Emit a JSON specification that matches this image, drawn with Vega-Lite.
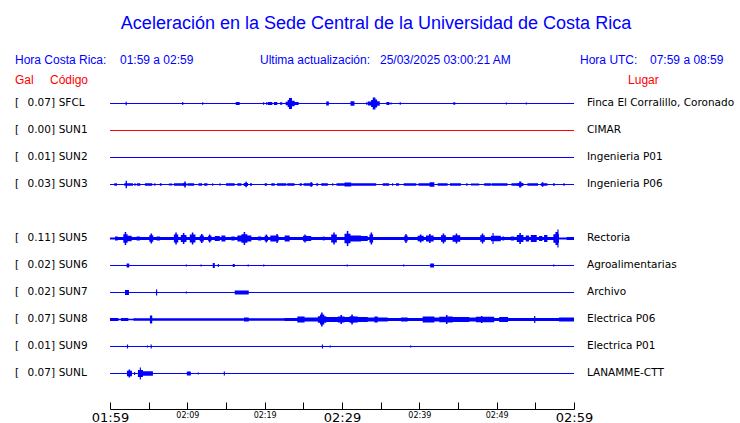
{
 "$schema": "https://vega.github.io/schema/vega-lite/v6.json",
 "width": 464, "height": 321,
 "autosize": {"type": "none"},
 "padding": {"left": 110, "top": 88, "right": 166, "bottom": 14},
 "background": "white",
 "title": {"text": "Aceleración en la Sede Central de la Universidad de Costa Rica", "font": "Liberation Sans", "fontSize": 18, "fontWeight": "normal", "color": "#0000ff", "anchor": "middle", "frame": "group", "offset": 21, "dx": 34},
 "config": {"view": {"stroke": null}, "axis": {"grid": false}},
 "resolve": {"axis": {"x": "independent", "y": "independent"}},
 "datasets": {
  "stations": [
   {"s":"SFCL","gal":0.07,"place":"Finca El Corralillo, Coronado","track":0},
   {"s":"SUN1","gal":0.00,"place":"CIMAR","track":1},
   {"s":"SUN2","gal":0.01,"place":"Ingenieria P01","track":2},
   {"s":"SUN3","gal":0.03,"place":"Ingenieria P06","track":3},
   {"s":"SUN5","gal":0.11,"place":"Rectoria","track":5},
   {"s":"SUN6","gal":0.02,"place":"Agroalimentarias","track":6},
   {"s":"SUN7","gal":0.02,"place":"Archivo","track":7},
   {"s":"SUN8","gal":0.07,"place":"Electrica P06","track":8},
   {"s":"SUN9","gal":0.01,"place":"Electrica P01","track":9},
   {"s":"SUNL","gal":0.07,"place":"LANAMME-CTT","track":10}
  ],
  "traces": [
   {"s":"SFCL","t":0,"a":0},{"s":"SFCL","t":2.02,"a":0.067},{"s":"SFCL","t":2.17,"a":0},{"s":"SFCL","t":9.33,"a":0.056},{"s":"SFCL","t":9.48,"a":0},{"s":"SFCL","t":11.91,"a":0.048},{"s":"SFCL","t":12.06,"a":0},{"s":"SFCL","t":16.26,"a":0.056},{"s":"SFCL","t":16.77,"a":0},{"s":"SFCL","t":19.78,"a":0.048},{"s":"SFCL","t":19.93,"a":0},{"s":"SFCL","t":20.17,"a":0.048},{"s":"SFCL","t":20.32,"a":0},{"s":"SFCL","t":20.39,"a":0.056},{"s":"SFCL","t":20.99,"a":0},{"s":"SFCL","t":21.2,"a":0.056},{"s":"SFCL","t":21.63,"a":0},{"s":"SFCL","t":21.98,"a":0.048},{"s":"SFCL","t":22.28,"a":0},{"s":"SFCL","t":22.71,"a":0.067},{"s":"SFCL","t":22.97,"a":0.13},{"s":"SFCL","t":23.14,"a":0.204},{"s":"SFCL","t":23.53,"a":0.1},{"s":"SFCL","t":23.87,"a":0.056},{"s":"SFCL","t":24.39,"a":0},{"s":"SFCL","t":27.96,"a":0.074},{"s":"SFCL","t":28.3,"a":0},{"s":"SFCL","t":31.1,"a":0.085},{"s":"SFCL","t":31.61,"a":0},{"s":"SFCL","t":33.12,"a":0.048},{"s":"SFCL","t":33.27,"a":0},{"s":"SFCL","t":33.33,"a":0.074},{"s":"SFCL","t":33.76,"a":0.13},{"s":"SFCL","t":33.98,"a":0.222},{"s":"SFCL","t":34.32,"a":0.148},{"s":"SFCL","t":34.54,"a":0.085},{"s":"SFCL","t":34.88,"a":0},{"s":"SFCL","t":35.74,"a":0.056},{"s":"SFCL","t":36.13,"a":0},{"s":"SFCL","t":36.26,"a":0.037},{"s":"SFCL","t":36.41,"a":0},{"s":"SFCL","t":37.46,"a":0.048},{"s":"SFCL","t":37.61,"a":0},{"s":"SFCL","t":44.39,"a":0.048},{"s":"SFCL","t":44.65,"a":0},{"s":"SFCL","t":51.18,"a":0.037},{"s":"SFCL","t":51.33,"a":0},{"s":"SFCL","t":53.76,"a":0.037},{"s":"SFCL","t":53.91,"a":0},{"s":"SFCL","t":60,"a":0},

   {"s":"SUN3","t":0,"a":0},{"s":"SUN3","t":0.56,"a":0.048},{"s":"SUN3","t":0.9,"a":0},{"s":"SUN3","t":1.85,"a":0.048},{"s":"SUN3","t":2.02,"a":0.137},{"s":"SUN3","t":2.19,"a":0.048},{"s":"SUN3","t":2.97,"a":0},{"s":"SUN3","t":3.14,"a":0.048},{"s":"SUN3","t":3.31,"a":0},{"s":"SUN3","t":3.48,"a":0.048},{"s":"SUN3","t":3.91,"a":0},{"s":"SUN3","t":4.52,"a":0.048},{"s":"SUN3","t":5.46,"a":0},{"s":"SUN3","t":5.72,"a":0.048},{"s":"SUN3","t":5.87,"a":0},{"s":"SUN3","t":6.45,"a":0.048},{"s":"SUN3","t":6.67,"a":0},{"s":"SUN3","t":7.61,"a":0.04},{"s":"SUN3","t":8.04,"a":0},{"s":"SUN3","t":8.26,"a":0.048},{"s":"SUN3","t":9.46,"a":0.056},{"s":"SUN3","t":9.6,"a":0.111},{"s":"SUN3","t":9.8,"a":0.056},{"s":"SUN3","t":9.89,"a":0},{"s":"SUN3","t":10.02,"a":0.048},{"s":"SUN3","t":10.88,"a":0},{"s":"SUN3","t":11.44,"a":0.048},{"s":"SUN3","t":11.91,"a":0},{"s":"SUN3","t":12.17,"a":0.048},{"s":"SUN3","t":12.6,"a":0},{"s":"SUN3","t":13.2,"a":0.048},{"s":"SUN3","t":13.35,"a":0},{"s":"SUN3","t":14.11,"a":0.04},{"s":"SUN3","t":14.32,"a":0},{"s":"SUN3","t":15.01,"a":0.048},{"s":"SUN3","t":16.13,"a":0},{"s":"SUN3","t":16.47,"a":0.048},{"s":"SUN3","t":16.99,"a":0},{"s":"SUN3","t":17.29,"a":0.056},{"s":"SUN3","t":17.5,"a":0.1},{"s":"SUN3","t":17.7,"a":0.056},{"s":"SUN3","t":17.85,"a":0},{"s":"SUN3","t":18.11,"a":0.048},{"s":"SUN3","t":18.37,"a":0},{"s":"SUN3","t":20.0,"a":0.048},{"s":"SUN3","t":20.3,"a":0},{"s":"SUN3","t":20.86,"a":0.048},{"s":"SUN3","t":21.29,"a":0},{"s":"SUN3","t":21.59,"a":0.048},{"s":"SUN3","t":22.8,"a":0},{"s":"SUN3","t":22.92,"a":0.048},{"s":"SUN3","t":23.87,"a":0},{"s":"SUN3","t":24.52,"a":0.048},{"s":"SUN3","t":24.82,"a":0},{"s":"SUN3","t":25.03,"a":0.048},{"s":"SUN3","t":25.89,"a":0.085},{"s":"SUN3","t":26.15,"a":0.048},{"s":"SUN3","t":26.24,"a":0},{"s":"SUN3","t":26.67,"a":0.048},{"s":"SUN3","t":26.92,"a":0},{"s":"SUN3","t":27.31,"a":0.048},{"s":"SUN3","t":28.17,"a":0},{"s":"SUN3","t":28.73,"a":0.048},{"s":"SUN3","t":28.88,"a":0},{"s":"SUN3","t":29.29,"a":0.048},{"s":"SUN3","t":30.32,"a":0.074},{"s":"SUN3","t":31.18,"a":0.048},{"s":"SUN3","t":34.41,"a":0},{"s":"SUN3","t":35.27,"a":0.048},{"s":"SUN3","t":36.09,"a":0},{"s":"SUN3","t":36.47,"a":0.048},{"s":"SUN3","t":36.62,"a":0},{"s":"SUN3","t":36.99,"a":0.048},{"s":"SUN3","t":37.38,"a":0},{"s":"SUN3","t":37.98,"a":0.048},{"s":"SUN3","t":39.61,"a":0},{"s":"SUN3","t":39.87,"a":0.048},{"s":"SUN3","t":41.33,"a":0.085},{"s":"SUN3","t":41.94,"a":0},{"s":"SUN3","t":42.37,"a":0.048},{"s":"SUN3","t":43.66,"a":0},{"s":"SUN3","t":43.96,"a":0.048},{"s":"SUN3","t":45.38,"a":0},{"s":"SUN3","t":46.06,"a":0.048},{"s":"SUN3","t":46.24,"a":0},{"s":"SUN3","t":46.67,"a":0.04},{"s":"SUN3","t":47.74,"a":0},{"s":"SUN3","t":48.39,"a":0.048},{"s":"SUN3","t":49.25,"a":0},{"s":"SUN3","t":49.33,"a":0.048},{"s":"SUN3","t":51.4,"a":0},{"s":"SUN3","t":51.91,"a":0.048},{"s":"SUN3","t":52.69,"a":0.056},{"s":"SUN3","t":52.9,"a":0.111},{"s":"SUN3","t":53.2,"a":0.056},{"s":"SUN3","t":53.46,"a":0},{"s":"SUN3","t":53.98,"a":0.048},{"s":"SUN3","t":55.35,"a":0},{"s":"SUN3","t":55.7,"a":0.048},{"s":"SUN3","t":55.83,"a":0.085},{"s":"SUN3","t":56.04,"a":0.048},{"s":"SUN3","t":56.56,"a":0},{"s":"SUN3","t":57.29,"a":0.048},{"s":"SUN3","t":57.51,"a":0},{"s":"SUN3","t":58.62,"a":0.048},{"s":"SUN3","t":58.8,"a":0},{"s":"SUN3","t":60,"a":0},

   {"s":"SUN5","t":0,"a":0.037},{"s":"SUN5","t":0.65,"a":0.074},{"s":"SUN5","t":0.99,"a":0.056},{"s":"SUN5","t":1.72,"a":0.157},{"s":"SUN5","t":1.9,"a":0.241},{"s":"SUN5","t":2.1,"a":0.157},{"s":"SUN5","t":2.28,"a":0.1},{"s":"SUN5","t":2.8,"a":0.056},{"s":"SUN5","t":3.44,"a":0.074},{"s":"SUN5","t":3.87,"a":0.056},{"s":"SUN5","t":5.08,"a":0.12},{"s":"SUN5","t":5.24,"a":0.185},{"s":"SUN5","t":5.44,"a":0.12},{"s":"SUN5","t":5.59,"a":0.056},{"s":"SUN5","t":6.02,"a":0.074},{"s":"SUN5","t":6.45,"a":0.056},{"s":"SUN5","t":8.26,"a":0.144},{"s":"SUN5","t":8.44,"a":0.222},{"s":"SUN5","t":8.64,"a":0.144},{"s":"SUN5","t":8.82,"a":0.056},{"s":"SUN5","t":9.16,"a":0.133},{"s":"SUN5","t":9.42,"a":0.204},{"s":"SUN5","t":9.62,"a":0.133},{"s":"SUN5","t":9.89,"a":0.056},{"s":"SUN5","t":10.32,"a":0.144},{"s":"SUN5","t":10.58,"a":0.222},{"s":"SUN5","t":10.78,"a":0.144},{"s":"SUN5","t":11.05,"a":0.056},{"s":"SUN5","t":11.61,"a":0.11},{"s":"SUN5","t":11.77,"a":0.167},{"s":"SUN5","t":11.97,"a":0.11},{"s":"SUN5","t":12.13,"a":0.056},{"s":"SUN5","t":12.69,"a":0.1},{"s":"SUN5","t":12.8,"a":0.148},{"s":"SUN5","t":12.98,"a":0.1},{"s":"SUN5","t":13.12,"a":0.056},{"s":"SUN5","t":13.55,"a":0.093},{"s":"SUN5","t":14.19,"a":0.056},{"s":"SUN5","t":14.41,"a":0.111},{"s":"SUN5","t":14.92,"a":0.056},{"s":"SUN5","t":15.7,"a":0.074},{"s":"SUN5","t":16.13,"a":0.056},{"s":"SUN5","t":16.47,"a":0.111},{"s":"SUN5","t":16.99,"a":0.157},{"s":"SUN5","t":17.28,"a":0.241},{"s":"SUN5","t":17.48,"a":0.157},{"s":"SUN5","t":17.76,"a":0.11},{"s":"SUN5","t":18.28,"a":0.056},{"s":"SUN5","t":19.14,"a":0.074},{"s":"SUN5","t":19.57,"a":0.056},{"s":"SUN5","t":20.0,"a":0.1},{"s":"SUN5","t":20.12,"a":0.148},{"s":"SUN5","t":20.3,"a":0.1},{"s":"SUN5","t":20.43,"a":0.056},{"s":"SUN5","t":20.73,"a":0.111},{"s":"SUN5","t":21.51,"a":0.167},{"s":"SUN5","t":21.7,"a":0.11},{"s":"SUN5","t":21.81,"a":0.056},{"s":"SUN5","t":22.58,"a":0.111},{"s":"SUN5","t":23.23,"a":0.056},{"s":"SUN5","t":24.95,"a":0.1},{"s":"SUN5","t":25.12,"a":0.148},{"s":"SUN5","t":25.3,"a":0.1},{"s":"SUN5","t":25.51,"a":0.093},{"s":"SUN5","t":26.02,"a":0.056},{"s":"SUN5","t":27.53,"a":0.074},{"s":"SUN5","t":27.74,"a":0.056},{"s":"SUN5","t":28.6,"a":0.144},{"s":"SUN5","t":28.87,"a":0.222},{"s":"SUN5","t":29.07,"a":0.144},{"s":"SUN5","t":29.33,"a":0.056},{"s":"SUN5","t":30.32,"a":0.18},{"s":"SUN5","t":30.62,"a":0.278},{"s":"SUN5","t":30.82,"a":0.18},{"s":"SUN5","t":31.1,"a":0.111},{"s":"SUN5","t":32.47,"a":0.093},{"s":"SUN5","t":33.33,"a":0.056},{"s":"SUN5","t":33.55,"a":0.144},{"s":"SUN5","t":33.7,"a":0.222},{"s":"SUN5","t":33.9,"a":0.144},{"s":"SUN5","t":34.02,"a":0.056},{"s":"SUN5","t":38.06,"a":0.11},{"s":"SUN5","t":38.18,"a":0.167},{"s":"SUN5","t":38.36,"a":0.11},{"s":"SUN5","t":38.49,"a":0.056},{"s":"SUN5","t":39.78,"a":0.1},{"s":"SUN5","t":40.07,"a":0.148},{"s":"SUN5","t":40.27,"a":0.1},{"s":"SUN5","t":40.56,"a":0.056},{"s":"SUN5","t":40.86,"a":0.11},{"s":"SUN5","t":41.26,"a":0.167},{"s":"SUN5","t":41.46,"a":0.11},{"s":"SUN5","t":41.85,"a":0.056},{"s":"SUN5","t":42.8,"a":0.12},{"s":"SUN5","t":43.02,"a":0.185},{"s":"SUN5","t":43.22,"a":0.12},{"s":"SUN5","t":43.44,"a":0.056},{"s":"SUN5","t":44.3,"a":0.12},{"s":"SUN5","t":44.7,"a":0.185},{"s":"SUN5","t":44.9,"a":0.12},{"s":"SUN5","t":45.29,"a":0.056},{"s":"SUN5","t":47.87,"a":0.12},{"s":"SUN5","t":48.07,"a":0.185},{"s":"SUN5","t":48.27,"a":0.12},{"s":"SUN5","t":48.47,"a":0.056},{"s":"SUN5","t":49.25,"a":0.1},{"s":"SUN5","t":49.46,"a":0.2},{"s":"SUN5","t":49.6,"a":0.1},{"s":"SUN5","t":50.54,"a":0.056},{"s":"SUN5","t":50.75,"a":0.074},{"s":"SUN5","t":50.97,"a":0.056},{"s":"SUN5","t":51.83,"a":0.074},{"s":"SUN5","t":52.26,"a":0.056},{"s":"SUN5","t":52.6,"a":0.133},{"s":"SUN5","t":52.93,"a":0.204},{"s":"SUN5","t":53.13,"a":0.133},{"s":"SUN5","t":53.46,"a":0.056},{"s":"SUN5","t":53.76,"a":0.111},{"s":"SUN5","t":54.19,"a":0.056},{"s":"SUN5","t":54.41,"a":0.13},{"s":"SUN5","t":55.18,"a":0.056},{"s":"SUN5","t":55.48,"a":0.093},{"s":"SUN5","t":55.91,"a":0.056},{"s":"SUN5","t":56.13,"a":0.13},{"s":"SUN5","t":56.56,"a":0.056},{"s":"SUN5","t":57.33,"a":0.157},{"s":"SUN5","t":57.6,"a":0.241},{"s":"SUN5","t":57.85,"a":0.333},{"s":"SUN5","t":58.0,"a":0.157},{"s":"SUN5","t":58.06,"a":0.037},{"s":"SUN5","t":59.05,"a":0.056},{"s":"SUN5","t":60,"a":0.056},

   {"s":"SUN6","t":0,"a":0},{"s":"SUN6","t":2.15,"a":0.074},{"s":"SUN6","t":2.49,"a":0},{"s":"SUN6","t":9.8,"a":0.037},{"s":"SUN6","t":9.95,"a":0},{"s":"SUN6","t":11.7,"a":0.037},{"s":"SUN6","t":11.85,"a":0},{"s":"SUN6","t":13.29,"a":0.093},{"s":"SUN6","t":13.55,"a":0},{"s":"SUN6","t":13.94,"a":0.056},{"s":"SUN6","t":14.09,"a":0},{"s":"SUN6","t":15.87,"a":0.056},{"s":"SUN6","t":16.13,"a":0},{"s":"SUN6","t":17.8,"a":0.037},{"s":"SUN6","t":17.95,"a":0},{"s":"SUN6","t":19.8,"a":0.037},{"s":"SUN6","t":19.95,"a":0},{"s":"SUN6","t":30.6,"a":0.037},{"s":"SUN6","t":30.75,"a":0},{"s":"SUN6","t":37.9,"a":0.037},{"s":"SUN6","t":38.05,"a":0},{"s":"SUN6","t":41.4,"a":0.074},{"s":"SUN6","t":41.9,"a":0},{"s":"SUN6","t":57.3,"a":0.037},{"s":"SUN6","t":57.45,"a":0},{"s":"SUN6","t":60,"a":0},

   {"s":"SUN7","t":0,"a":0},{"s":"SUN7","t":1.94,"a":0.093},{"s":"SUN7","t":2.45,"a":0},{"s":"SUN7","t":5.94,"a":0.111},{"s":"SUN7","t":6.1,"a":0},{"s":"SUN7","t":9.8,"a":0.037},{"s":"SUN7","t":9.95,"a":0},{"s":"SUN7","t":16.13,"a":0.074},{"s":"SUN7","t":17.94,"a":0},{"s":"SUN7","t":60,"a":0},

   {"s":"SUN8","t":0,"a":0.056},{"s":"SUN8","t":1.08,"a":0.03},{"s":"SUN8","t":1.42,"a":0.056},{"s":"SUN8","t":2.37,"a":0.03},{"s":"SUN8","t":3.01,"a":0.048},{"s":"SUN8","t":5.16,"a":0.148},{"s":"SUN8","t":5.46,"a":0.048},{"s":"SUN8","t":17.33,"a":0.074},{"s":"SUN8","t":17.94,"a":0.048},{"s":"SUN8","t":22.58,"a":0.056},{"s":"SUN8","t":24.22,"a":0.111},{"s":"SUN8","t":25.16,"a":0.074},{"s":"SUN8","t":26.88,"a":0.12},{"s":"SUN8","t":27.15,"a":0.185},{"s":"SUN8","t":27.3,"a":0.259},{"s":"SUN8","t":27.5,"a":0.185},{"s":"SUN8","t":27.7,"a":0.12},{"s":"SUN8","t":27.96,"a":0.093},{"s":"SUN8","t":29.46,"a":0.11},{"s":"SUN8","t":29.8,"a":0.167},{"s":"SUN8","t":30.0,"a":0.11},{"s":"SUN8","t":30.32,"a":0.093},{"s":"SUN8","t":30.97,"a":0.12},{"s":"SUN8","t":31.2,"a":0.185},{"s":"SUN8","t":31.4,"a":0.12},{"s":"SUN8","t":31.61,"a":0.111},{"s":"SUN8","t":32.04,"a":0.093},{"s":"SUN8","t":33.33,"a":0.074},{"s":"SUN8","t":34.19,"a":0.111},{"s":"SUN8","t":34.62,"a":0.074},{"s":"SUN8","t":35.91,"a":0.056},{"s":"SUN8","t":37.63,"a":0.074},{"s":"SUN8","t":38.49,"a":0.056},{"s":"SUN8","t":40.43,"a":0.111},{"s":"SUN8","t":41.94,"a":0.074},{"s":"SUN8","t":42.58,"a":0.1},{"s":"SUN8","t":43.44,"a":0.167},{"s":"SUN8","t":43.64,"a":0.11},{"s":"SUN8","t":44.3,"a":0.093},{"s":"SUN8","t":46.45,"a":0.074},{"s":"SUN8","t":47.31,"a":0.1},{"s":"SUN8","t":47.96,"a":0.13},{"s":"SUN8","t":48.16,"a":0.1},{"s":"SUN8","t":49.68,"a":0.056},{"s":"SUN8","t":50.32,"a":0.093},{"s":"SUN8","t":51.48,"a":0.056},{"s":"SUN8","t":54.84,"a":0.13},{"s":"SUN8","t":55.0,"a":0.056},{"s":"SUN8","t":58.06,"a":0.074},{"s":"SUN8","t":60,"a":0.074},

   {"s":"SUN9","t":0,"a":0},{"s":"SUN9","t":2.19,"a":0.074},{"s":"SUN9","t":2.34,"a":0},{"s":"SUN9","t":4.77,"a":0.037},{"s":"SUN9","t":4.92,"a":0},{"s":"SUN9","t":5.25,"a":0.074},{"s":"SUN9","t":5.4,"a":0},{"s":"SUN9","t":27.4,"a":0.074},{"s":"SUN9","t":27.55,"a":0},{"s":"SUN9","t":28.4,"a":0.037},{"s":"SUN9","t":28.55,"a":0},{"s":"SUN9","t":38.8,"a":0.037},{"s":"SUN9","t":38.95,"a":0},{"s":"SUN9","t":60,"a":0},

   {"s":"SUNL","t":0,"a":0},{"s":"SUNL","t":2.19,"a":0.1},{"s":"SUNL","t":2.4,"a":0.148},{"s":"SUNL","t":2.6,"a":0.1},{"s":"SUNL","t":2.84,"a":0},{"s":"SUNL","t":3.1,"a":0.056},{"s":"SUNL","t":3.25,"a":0},{"s":"SUNL","t":3.61,"a":0.13},{"s":"SUNL","t":3.85,"a":0.222},{"s":"SUNL","t":4.0,"a":0.13},{"s":"SUNL","t":4.26,"a":0.085},{"s":"SUNL","t":5.55,"a":0},{"s":"SUNL","t":9.94,"a":0.074},{"s":"SUNL","t":10.45,"a":0},{"s":"SUNL","t":11.35,"a":0.037},{"s":"SUNL","t":11.5,"a":0},{"s":"SUNL","t":14.71,"a":0.074},{"s":"SUNL","t":14.86,"a":0},{"s":"SUNL","t":60,"a":0}
  ]
 },
 "layer": [
  {
   "data": {"name": "stations"},
   "mark": {"type": "rule", "strokeWidth": 1},
   "encoding": {
    "x": {"datum": 0, "type": "quantitative", "scale": {"domain": [0, 60], "nice": false, "zero": false},
     "axis": {"values": [0,5,10,15,20,25,30,35,40,45,50,55,60],
      "labelExpr": "datum.value % 10 == 0 ? '0' + floor((119 + datum.value) / 60) + ':' + ((119 + datum.value) % 60 < 10 ? '0' : '') + ((119 + datum.value) % 60) : ''",
      "labelFontSize": {"condition": {"test": "datum.value % 30 == 0", "value": 13}, "value": 8},
      "labelFont": "DejaVu Sans", "labelColor": "black", "tickSize": -7, "tickColor": "black", "domainColor": "black",
      "labelPadding": 9, "labelFlush": false, "labelOverlap": false, "labelBound": false, "title": null, "grid": false}},
    "x2": {"datum": 60},
    "y": {"field": "track", "type": "quantitative", "scale": {"domain": [-0.574, 11.315], "reverse": true, "nice": false, "zero": false}, "axis": null},
    "color": {"condition": {"test": "datum.gal == 0", "value": "#ff0000"}, "value": "#0000ff"}
   }
  },
  {
   "data": {"name": "traces"},
   "transform": [{"lookup": "s", "from": {"data": {"name": "stations"}, "key": "s", "fields": ["track"]}}],
   "mark": {"type": "errorband", "interpolate": "step-after", "color": "#0000ff", "opacity": 1, "band": {"opacity": 1}},
   "encoding": {
    "x": {"field": "t", "type": "quantitative", "axis": null},
    "y": {"field": "track", "type": "quantitative", "axis": null},
    "yError": {"field": "a"},
    "detail": {"field": "s"}
   }
  },
  {
   "data": {"name": "stations"},
   "mark": {"type": "text", "text": "[", "align": "left", "baseline": "middle", "font": "DejaVu Sans", "fontSize": 10.5, "color": "black"},
   "encoding": {
    "x": {"datum": -12.285, "type": "quantitative", "axis": null},
    "y": {"field": "track", "type": "quantitative", "axis": null}
   }
  },
  {
   "data": {"name": "stations"},
   "mark": {"type": "text", "align": "right", "baseline": "middle", "font": "DejaVu Sans", "fontSize": 10.5, "color": "black"},
   "encoding": {
    "x": {"datum": -7.63, "type": "quantitative", "axis": null},
    "y": {"field": "track", "type": "quantitative", "axis": null},
    "text": {"field": "gal", "type": "quantitative", "format": ".2f"}
   }
  },
  {
   "data": {"name": "stations"},
   "mark": {"type": "text", "text": "]", "align": "left", "baseline": "middle", "font": "DejaVu Sans", "fontSize": 10.5, "color": "black"},
   "encoding": {
    "x": {"datum": -7.63, "type": "quantitative", "axis": null},
    "y": {"field": "track", "type": "quantitative", "axis": null}
   }
  },
  {
   "data": {"name": "stations"},
   "mark": {"type": "text", "align": "left", "baseline": "middle", "font": "DejaVu Sans", "fontSize": 10.5, "color": "black"},
   "encoding": {
    "x": {"datum": -6.634, "type": "quantitative", "axis": null},
    "y": {"field": "track", "type": "quantitative", "axis": null},
    "text": {"field": "s"}
   }
  },
  {
   "data": {"name": "stations"},
   "mark": {"type": "text", "align": "left", "baseline": "middle", "font": "DejaVu Sans", "fontSize": 10.5, "color": "black"},
   "encoding": {
    "x": {"datum": 61.68, "type": "quantitative", "axis": null},
    "y": {"field": "track", "type": "quantitative", "axis": null},
    "text": {"field": "place"}
   }
  },
  {
   "data": {"values": [{}]},
   "mark": {"type": "text", "text": "Hora Costa Rica:", "align": "left", "baseline": "alphabetic", "font": "Liberation Sans", "fontSize": 12, "color": "#0000ff"},
   "encoding": {"x": {"datum": -12.285, "type": "quantitative", "axis": null}, "y": {"datum": -1.452, "type": "quantitative", "axis": null}}
  },
  {
   "data": {"values": [{}]},
   "mark": {"type": "text", "text": "01:59 a 02:59", "align": "left", "baseline": "alphabetic", "font": "Liberation Sans", "fontSize": 12, "color": "#0000ff"},
   "encoding": {"x": {"datum": 1.293, "type": "quantitative", "axis": null}, "y": {"datum": -1.452, "type": "quantitative", "axis": null}}
  },
  {
   "data": {"values": [{}]},
   "mark": {"type": "text", "text": "Ultima actualización:", "align": "left", "baseline": "alphabetic", "font": "Liberation Sans", "fontSize": 12, "color": "#0000ff"},
   "encoding": {"x": {"datum": 19.397, "type": "quantitative", "axis": null}, "y": {"datum": -1.452, "type": "quantitative", "axis": null}}
  },
  {
   "data": {"values": [{}]},
   "mark": {"type": "text", "text": "25/03/2025 03:00:21 AM", "align": "left", "baseline": "alphabetic", "font": "Liberation Sans", "fontSize": 12, "color": "#0000ff"},
   "encoding": {"x": {"datum": 34.915, "type": "quantitative", "axis": null}, "y": {"datum": -1.452, "type": "quantitative", "axis": null}}
  },
  {
   "data": {"values": [{}]},
   "mark": {"type": "text", "text": "Hora UTC:", "align": "left", "baseline": "alphabetic", "font": "Liberation Sans", "fontSize": 12, "color": "#0000ff"},
   "encoding": {"x": {"datum": 60.78, "type": "quantitative", "axis": null}, "y": {"datum": -1.452, "type": "quantitative", "axis": null}}
  },
  {
   "data": {"values": [{}]},
   "mark": {"type": "text", "text": "07:59 a 08:59", "align": "left", "baseline": "alphabetic", "font": "Liberation Sans", "fontSize": 12, "color": "#0000ff"},
   "encoding": {"x": {"datum": 69.83, "type": "quantitative", "axis": null}, "y": {"datum": -1.452, "type": "quantitative", "axis": null}}
  },
  {
   "data": {"values": [{}]},
   "mark": {"type": "text", "text": "Gal", "align": "left", "baseline": "alphabetic", "font": "Liberation Sans", "fontSize": 12, "color": "#ff0000"},
   "encoding": {"x": {"datum": -12.285, "type": "quantitative", "axis": null}, "y": {"datum": -0.704, "type": "quantitative", "axis": null}}
  },
  {
   "data": {"values": [{}]},
   "mark": {"type": "text", "text": "Código", "align": "left", "baseline": "alphabetic", "font": "Liberation Sans", "fontSize": 12, "color": "#ff0000"},
   "encoding": {"x": {"datum": -7.759, "type": "quantitative", "axis": null}, "y": {"datum": -0.704, "type": "quantitative", "axis": null}}
  },
  {
   "data": {"values": [{}]},
   "mark": {"type": "text", "text": "Lugar", "align": "left", "baseline": "alphabetic", "font": "Liberation Sans", "fontSize": 12, "color": "#ff0000"},
   "encoding": {"x": {"datum": 66.99, "type": "quantitative", "axis": null}, "y": {"datum": -0.704, "type": "quantitative", "axis": null}}
  }
 ]
}
